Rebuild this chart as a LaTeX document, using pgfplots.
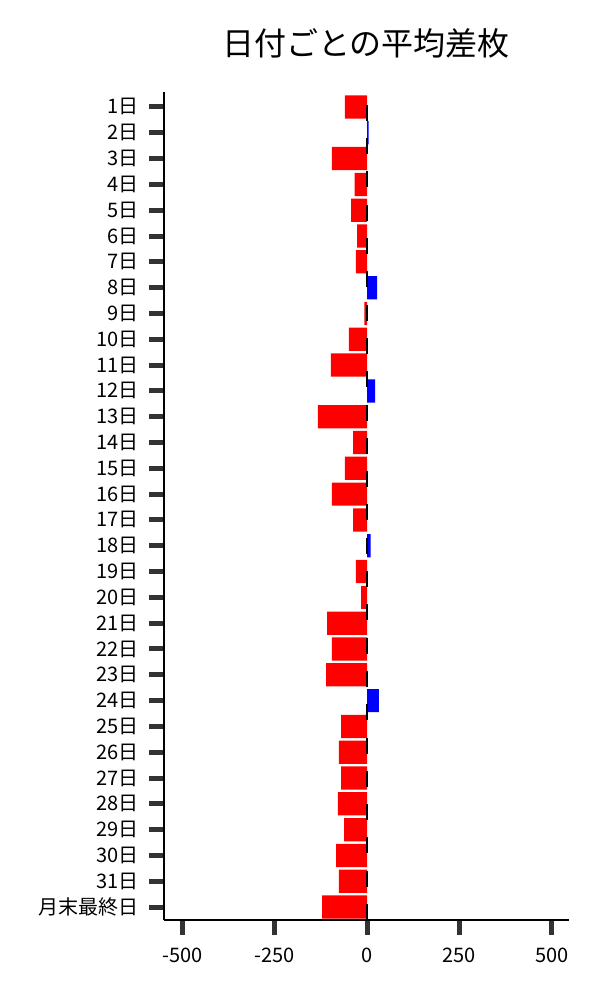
\documentclass[border=0pt]{standalone}
\usepackage{fontspec}
\setmainfont{Noto Sans CJK JP}
\usepackage{pgfplots}
\pgfplotsset{compat=1.18}
\begin{document}
\begin{tikzpicture}
\path[use as bounding box] (0pt,0pt) rectangle (600pt,-1000pt);
\node[font=\fontsize{32}{36}\selectfont, anchor=center] at (366pt,-43pt) {日付ごとの平均差枚};
\begin{axis}[
  at={(164pt,-920pt)}, anchor=south west,
  scale only axis, width=405pt, height=828pt,
  xmin=-550, xmax=547, ymin=0.5, ymax=32.58,
  axis x line*=bottom, axis y line*=left,
  axis line style={line width=1.2pt, black},
  xtick={-500,-250,0,250,500},
  xticklabels={-500,-250,0,250,500},
  ytick={1,...,32},
  yticklabels={月末最終日,31日,30日,29日,28日,27日,26日,25日,24日,23日,22日,21日,20日,19日,18日,17日,16日,15日,14日,13日,12日,11日,10日,9日,8日,7日,6日,5日,4日,3日,2日,1日},
  tick align=outside, major tick length=15pt,
  tick style={line width=5pt, color=black!80, line cap=butt},
  ticklabel style={font=\fontsize{20}{23}\selectfont},
  yticklabel style={inner sep=0pt, xshift=-10pt},
  xticklabel style={inner sep=0pt, yshift=-13pt},
  xbar, bar width=0.9,
  clip=false,
]
\addplot[xbar, bar shift=0pt, fill={rgb,255:red,255;green,0;blue,0}, draw=none] coordinates {
(-60,32) (-95,30) (-34,29) (-43,28) (-27,27) (-30,26) (-7,24) (-49,23) (-98,22)
(-133,20) (-38,19) (-60,18) (-95,17) (-38,16) (-30,14) (-16,13) (-108,12) (-95,11)
(-111,10) (-70,8) (-76,7) (-70,6) (-79,5) (-62,4) (-84,3) (-76,2) (-122,1)};
\addplot[xbar, bar shift=0pt, fill={rgb,255:red,0;green,0;blue,255}, draw=none] coordinates {
(4,31) (27,25) (22,21) (10,15) (32,9)};
\addplot[black, line width=2pt, dash pattern=on 16pt off 17.3pt, xbar=false, mark=none, sharp plot] coordinates {(0,0.5) (0,32.58)};
\end{axis}
\end{tikzpicture}
\end{document}
